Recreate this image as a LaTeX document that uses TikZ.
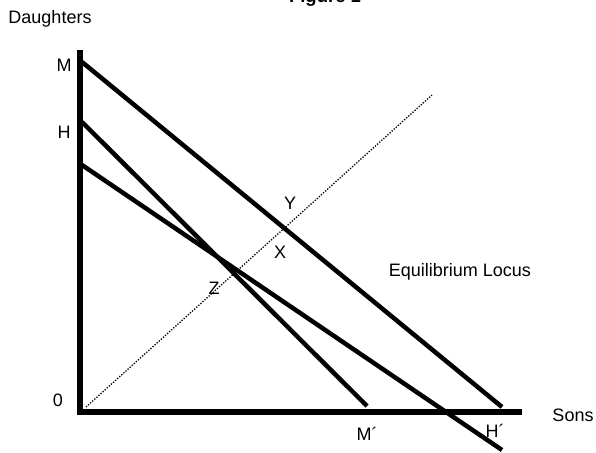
\documentclass[tikz,border=0pt]{standalone}
\usepackage{fontspec}
\setmainfont{Liberation Sans}
\begin{document}
\begin{tikzpicture}[x=1pt,y=-1pt,
  lbl/.style={inner sep=0pt,font=\fontsize{18}{20}\selectfont},
  axis/.style={line width=6pt},
  budget/.style={line width=4.5pt},
  locus/.style={line width=1.3pt,dash pattern=on 1.3pt off 1.5pt}]
\useasboundingbox (0,0) rectangle (596,452);
% title (partly cut off at the top)
\node[inner sep=0pt,anchor=base,font=\fontsize{18.5}{20}\selectfont\bfseries] (title) at (325,3) {Figure 1};
% axes
\coordinate (otop) at (80,50);
\coordinate (o) at (80,412);
\coordinate (xend) at (522,412);
\draw[axis] (otop) -- (80,415);
\draw[axis] (77,412) -- (xend);
% lines
\coordinate (m) at (82,62);
\coordinate (hp) at (502,407);
\coordinate (h) at (82,122);
\coordinate (mp) at (367,406);
\coordinate (c) at (82,165);
\coordinate (cend) at (502,450);
\draw[budget] (m) -- (hp);
\draw[budget] (h) -- (mp);
\draw[budget] (c) -- (cend);
% equilibrium locus
\coordinate (l0) at (86,407);
\coordinate (l1) at (432,95);
\draw[locus] (l0) -- (l1);
% labels
\node[lbl] (daughters) at (50,19) {Daughters};
\node[lbl] (lM) at (64,65) {M};
\node[lbl] (lH) at (64,132) {H};
\node[lbl] (l0lab) at (58,400) {0};
\node[lbl] (lY) at (290,203) {Y};
\node[lbl] (lX) at (280,252) {X};
\node[lbl] (lZ) at (214,288) {Z};
\node[lbl] (eq) at (460,272) {Equilibrium Locus};
\node[lbl] (sons) at (573,415) {Sons};
\node[lbl] (lMp) at (367,434) {M´};
\node[lbl] (lHp) at (495,431) {H´};
\end{tikzpicture}
\end{document}
